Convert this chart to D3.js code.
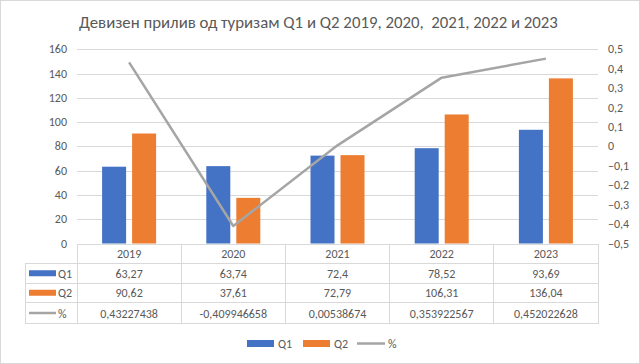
<!DOCTYPE html>
<html>
<head>
<meta charset="utf-8">
<script src="https://cdn.jsdelivr.net/npm/d3@7"></script>
<style>
  body { margin: 0; background: #fff; }
  svg text { font-family: Carlito, "Liberation Sans Narrow", "Open Sans", sans-serif; fill: #595959; }
</style>
</head>
<body>
<svg id="chart" width="640" height="364"></svg>
<script>
var years = ["2019", "2020", "2021", "2022", "2023"];
var q1 = [63.27, 63.74, 72.4, 78.52, 93.69];
var q2 = [90.62, 37.61, 72.79, 106.31, 136.04];
var pct = [0.43227438, -0.409946658, 0.00538674, 0.353922567, 0.452022628];
var pctLabels = ["0,43227438", "-0,409946658", "0,00538674", "0,353922567", "0,452022628"];
var leftTicks = [0, 20, 40, 60, 80, 100, 120, 140, 160];
var rightTicks = [-0.5, -0.4, -0.3, -0.2, -0.1, 0, 0.1, 0.2, 0.3, 0.4, 0.5];
var title = "Девизен прилив од туризам Q1 и Q2 2019, 2020,  2021, 2022 и 2023";

var colors = { q1: "#4472C4", q2: "#ED7D31", pct: "#A5A5A5" };
var grid = "#D9D9D9";

var svg = d3.select("#chart");
var plot = { left: 77, right: 598, top: 49.3, bottom: 243.5 };

svg.append("rect").attr("x", 0.5).attr("y", 0.5).attr("width", 639).attr("height", 363)
  .attr("fill", "#fff").attr("stroke", grid);

svg.append("text").attr("x", 318.5).attr("y", 28).attr("text-anchor", "middle")
  .attr("font-size", 16.8).style("white-space", "pre").text(title);

var x = d3.scaleBand().domain(years).range([plot.left, plot.right]);
var y = d3.scaleLinear().domain([0, 160]).range([plot.bottom, plot.top]);
var y2 = d3.scaleLinear().domain([-0.5, 0.5]).range([plot.bottom, plot.top]);

// gridlines
svg.append("g").selectAll("line").data(leftTicks.slice(1)).join("line")
  .attr("x1", plot.left).attr("x2", plot.right)
  .attr("y1", function(d) { return Math.round(y(d)) + 0.5; })
  .attr("y2", function(d) { return Math.round(y(d)) + 0.5; })
  .attr("stroke", grid).attr("stroke-width", 1);

// left axis labels
svg.append("g").selectAll("text").data(leftTicks).join("text")
  .attr("x", 67).attr("y", function(d) { return y(d) + 4; })
  .attr("text-anchor", "end").attr("font-size", 12).text(function(d) { return d; });

// right axis labels
svg.append("g").selectAll("text").data(rightTicks).join("text")
  .attr("x", 608).attr("y", function(d) { return y2(d) + 4; })
  .attr("font-size", 12).text(function(d) { return d3.format(".1f")(d).replace(".", ",").replace(/^-?0,0$/, "0"); });

// bars
var barW = 24, gap = 6;
var bars = svg.append("g");
bars.selectAll("rect.q1").data(q1).join("rect").attr("class", "q1")
  .attr("x", function(d, i) { return x(years[i]) + x.bandwidth() / 2 - gap / 2 - barW; })
  .attr("y", function(d) { return y(d); }).attr("width", barW)
  .attr("height", function(d) { return plot.bottom - y(d); }).attr("fill", colors.q1);
bars.selectAll("rect.q2").data(q2).join("rect").attr("class", "q2")
  .attr("x", function(d, i) { return x(years[i]) + x.bandwidth() / 2 + gap / 2; })
  .attr("y", function(d) { return y(d); }).attr("width", barW)
  .attr("height", function(d) { return plot.bottom - y(d); }).attr("fill", colors.q2);

// line
var line = d3.line()
  .x(function(d, i) { return x(years[i]) + x.bandwidth() / 2; })
  .y(function(d) { return y2(d); });
svg.append("path").datum(pct).attr("d", line).attr("fill", "none")
  .attr("stroke", colors.pct).attr("stroke-width", 2.5).attr("stroke-linejoin", "round");

// data table
var tbl = { left: 25, rows: [244, 263.5, 283, 302.5, 323.5] };
var tg = svg.append("g").attr("stroke", grid).attr("stroke-width", 1).attr("shape-rendering", "crispEdges");
tg.append("line").attr("x1", plot.left).attr("x2", plot.right).attr("y1", tbl.rows[0]).attr("y2", tbl.rows[0]);
tbl.rows.slice(1).forEach(function(r) {
  tg.append("line").attr("x1", tbl.left).attr("x2", plot.right).attr("y1", r).attr("y2", r);
});
tg.append("line").attr("x1", tbl.left).attr("x2", tbl.left).attr("y1", tbl.rows[1]).attr("y2", tbl.rows[4]);
years.concat([null]).forEach(function(yr, i) {
  var xx = i < years.length ? x(yr) : plot.right;
  tg.append("line").attr("x1", xx).attr("x2", xx).attr("y1", tbl.rows[0]).attr("y2", tbl.rows[4]);
});

function rowText(vals, ri) {
  svg.append("g").selectAll("text").data(vals).join("text")
    .attr("x", function(d, i) { return x(years[i]) + x.bandwidth() / 2; })
    .attr("y", (tbl.rows[ri] + tbl.rows[ri + 1]) / 2 + 4.5)
    .attr("text-anchor", "middle").attr("font-size", 12).text(function(d) { return d; });
}
function fmt(v) { return String(v).replace(".", ","); }
rowText(years, 0);
rowText(q1.map(fmt), 1);
rowText(q2.map(fmt), 2);
rowText(pctLabels, 3);

// row keys
var keys = [
  { name: "Q1", color: colors.q1, type: "bar" },
  { name: "Q2", color: colors.q2, type: "bar" },
  { name: "%", color: colors.pct, type: "line" }
];
keys.forEach(function(k, i) {
  var cy = (tbl.rows[i + 1] + tbl.rows[i + 2]) / 2;
  if (k.type === "bar") {
    svg.append("rect").attr("x", 29).attr("y", cy - 3).attr("width", 27).attr("height", 6).attr("fill", k.color);
  } else {
    svg.append("line").attr("x1", 29).attr("x2", 56).attr("y1", cy).attr("y2", cy)
      .attr("stroke", k.color).attr("stroke-width", 2.5);
  }
  svg.append("text").attr("x", 58).attr("y", cy + 4.5).attr("font-size", 12).text(k.name);
});

// legend
var legX = [247, 303, 357];
keys.forEach(function(k, i) {
  var cy = 343.5;
  if (k.type === "bar") {
    svg.append("rect").attr("x", legX[i]).attr("y", cy - 3.5).attr("width", 27).attr("height", 7).attr("fill", k.color);
  } else {
    svg.append("line").attr("x1", legX[i]).attr("x2", legX[i] + 28).attr("y1", cy).attr("y2", cy)
      .attr("stroke", k.color).attr("stroke-width", 2.5);
  }
  svg.append("text").attr("x", legX[i] + 31).attr("y", cy + 4.5).attr("font-size", 12).text(k.name);
});
</script>
</body>
</html>
